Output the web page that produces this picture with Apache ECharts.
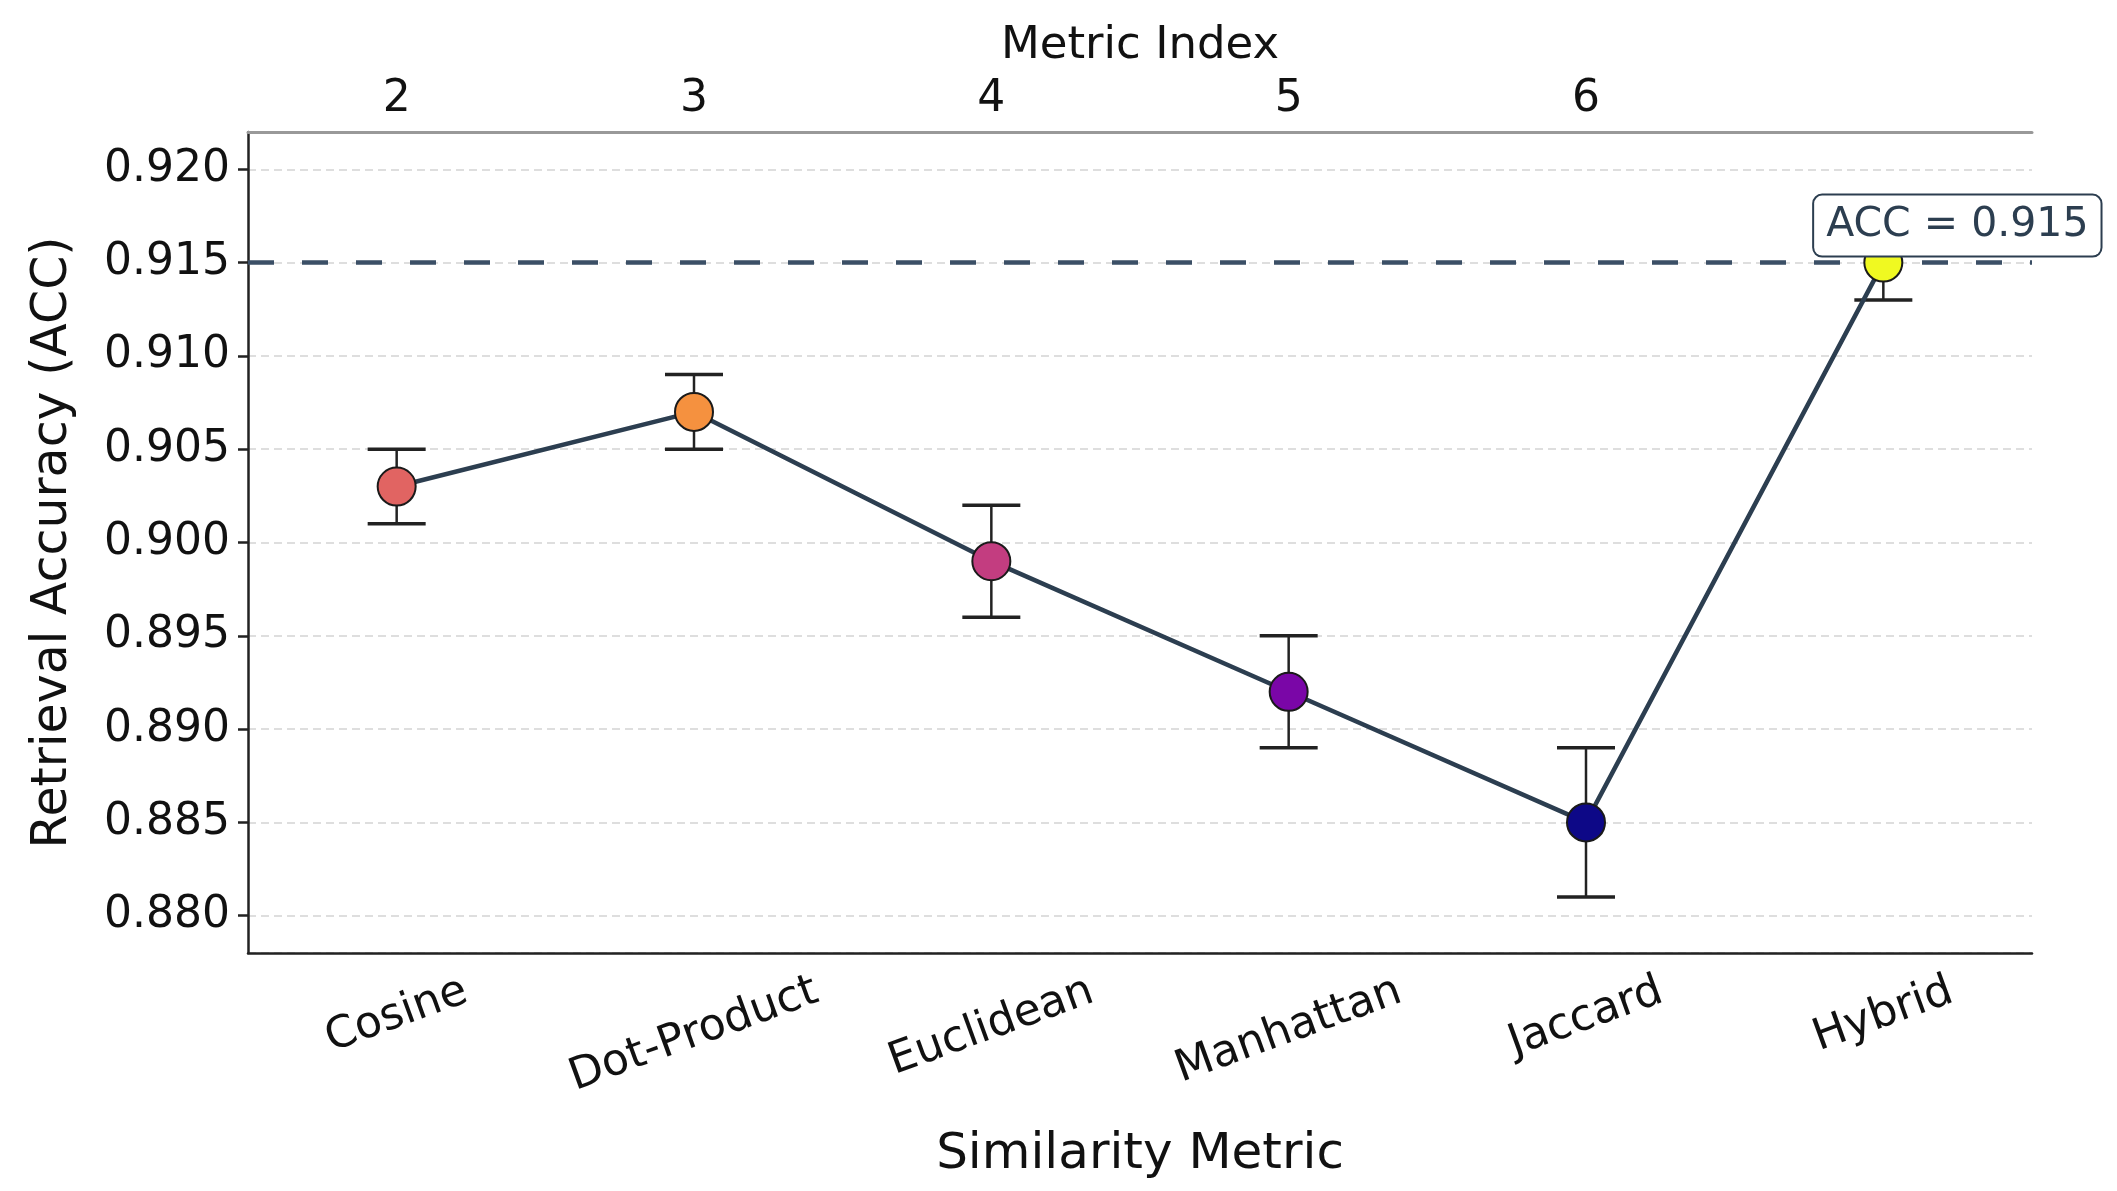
<!DOCTYPE html>
<html>
<head>
<meta charset="utf-8">
<script src="https://cdn.jsdelivr.net/npm/echarts@6/dist/echarts.min.js"></script>
<style>
html,body{margin:0;padding:0;background:#fff;}
#chart{width:2117px;height:1191px;}
</style>
</head>
<body>
<div id="chart"></div>
<script>
const categories = ['Cosine', 'Dot-Product', 'Euclidean', 'Manhattan', 'Jaccard', 'Hybrid'];
const accuracy = [0.903, 0.907, 0.899, 0.892, 0.885, 0.915];
const errLow = [0.002, 0.002, 0.003, 0.003, 0.004, 0.002];
const errHigh = [0.002, 0.002, 0.003, 0.003, 0.004, 0.002];
const metricIndexTicks = ['2', '3', '4', '5', '6', ''];
const referenceAcc = 0.915;

// styles (plasma colours by value)
const markerColors = ['#e16462', '#f5913f', '#c33d80', '#7a06a7', '#0d0887', '#f0f921'];
const FONT = 'DejaVu Sans';

// label padding so rotated labels top-align like matplotlib
const ctx = document.createElement('canvas').getContext('2d');
ctx.font = '44px "DejaVu Sans"';
const widths = categories.map(c => ctx.measureText(c).width);
const wmin = Math.min(...widths);
const th = 20 * Math.PI / 180;
const rich = {};
categories.forEach((c, i) => {
  const V = (widths[i] - wmin) * Math.sin(th) / 2;
  rich['p' + i] = {
    fontSize: 44, fontFamily: FONT, color: '#111',
    padding: [2 * V * Math.cos(th), 2 * V * Math.sin(th), 0, 0]
  };
});

const maxIdx = accuracy.indexOf(Math.max(...accuracy));

const lineData = accuracy.map((v, i) => {
  const item = {
    value: v,
    itemStyle: { color: markerColors[i], borderColor: '#1a1a1a', borderWidth: 2 }
  };
  if (i === maxIdx) {
    item.label = {
      show: true,
      position: 'top',
      offset: [74, 18],
      formatter: 'ACC = ' + v.toFixed(3),
      fontFamily: FONT,
      fontSize: 41,
      lineHeight: 44,
      color: '#2c3e50',
      backgroundColor: '#fff',
      borderColor: '#2c3e50',
      borderWidth: 2,
      borderRadius: 8,
      padding: [8, 12, 8, 12]
    };
  }
  return item;
});

const errData = accuracy.map((v, i) => [i, v - errLow[i], v + errHigh[i]]);

const chart = echarts.init(document.getElementById('chart'), null, { renderer: 'canvas' });
chart.setOption({
  animation: false,
  backgroundColor: '#fff',
  grid: { left: 248, right: 85, top: 132, bottom: 238 },
  xAxis: [
    {
      type: 'category',
      data: categories,
      boundaryGap: true,
      name: 'Similarity Metric',
      nameLocation: 'middle',
      nameGap: 177,
      nameTextStyle: { fontFamily: FONT, fontSize: 50, color: '#111' },
      axisLine: { lineStyle: { color: '#222', width: 2.5 } },
      axisTick: { alignWithLabel: true, length: 10, lineStyle: { color: '#222', width: 2.5 } },
      axisLabel: {
        interval: 0,
        rotate: 20,
        align: 'center',
        verticalAlign: 'middle',
        margin: 62,
        fontFamily: FONT, fontSize: 44, color: '#111',
        formatter: (v, i) => '{p' + i + '|' + v + '}',
        rich: rich
      },
      splitLine: { show: false }
    },
    {
      type: 'category',
      position: 'top',
      data: metricIndexTicks,
      boundaryGap: true,
      name: 'Metric Index',
      nameLocation: 'middle',
      nameGap: 63,
      nameTextStyle: { fontFamily: FONT, fontSize: 45, color: '#111' },
      axisLine: { lineStyle: { color: '#999', width: 3 } },
      axisTick: {
        alignWithLabel: true, length: 8,
        interval: (idx, val) => val !== '',
        lineStyle: { color: '#222', width: 2.5 }
      },
      axisLabel: { interval: 0, margin: 10, fontFamily: FONT, fontSize: 44, color: '#111' },
      splitLine: { show: false }
    }
  ],
  yAxis: {
    type: 'value',
    min: 0.878,
    max: 0.922,
    splitNumber: 9,
    name: 'Retrieval Accuracy (ACC)',
    nameLocation: 'middle',
    nameGap: 170,
    nameTextStyle: { fontFamily: FONT, fontSize: 49, color: '#111' },
    axisLine: { show: true, lineStyle: { color: '#222', width: 2.5 } },
    axisTick: { show: true, length: 10, lineStyle: { color: '#222', width: 2.5 } },
    axisLabel: {
      margin: 18, fontFamily: FONT, fontSize: 44, color: '#111',
      showMinLabel: false, showMaxLabel: false,
      formatter: v => v.toFixed(3)
    },
    splitLine: { show: true, lineStyle: { color: '#dedede', width: 2, type: [8, 5] } }
  },
  series: [
    {
      type: 'custom',
      name: 'err',
      z: 1,
      silent: true,
      data: errData,
      encode: { x: 0, y: [1, 2] },
      renderItem: (params, api) => {
        const i = api.value(0);
        const lo = api.coord([i, api.value(1)]);
        const hi = api.coord([i, api.value(2)]);
        const hw = 29;
        const style = { stroke: '#222', lineWidth: 2.5 };
        const cap = { stroke: '#222', lineWidth: 3.5 };
        return {
          type: 'group',
          children: [
            { type: 'line', shape: { x1: lo[0], y1: lo[1], x2: hi[0], y2: hi[1] }, style: style },
            { type: 'line', shape: { x1: lo[0] - hw, y1: lo[1], x2: lo[0] + hw, y2: lo[1] }, style: cap },
            { type: 'line', shape: { x1: hi[0] - hw, y1: hi[1], x2: hi[0] + hw, y2: hi[1] }, style: cap }
          ]
        };
      },
      markLine: {
        silent: true,
        z: 2,
        precision: 4,
        symbol: 'none',
        label: { show: false },
        lineStyle: { color: '#3b4f66', width: 4.5, type: [26, 28] },
        data: [{ yAxis: referenceAcc }]
      }
    },
    {
      type: 'line',
      name: 'acc',
      z: 3,
      data: lineData,
      symbol: 'circle',
      symbolSize: 38,
      lineStyle: { color: '#2c3e50', width: 4.5 },
      emphasis: { disabled: true }
    }
  ]
});
</script>
</body>
</html>
